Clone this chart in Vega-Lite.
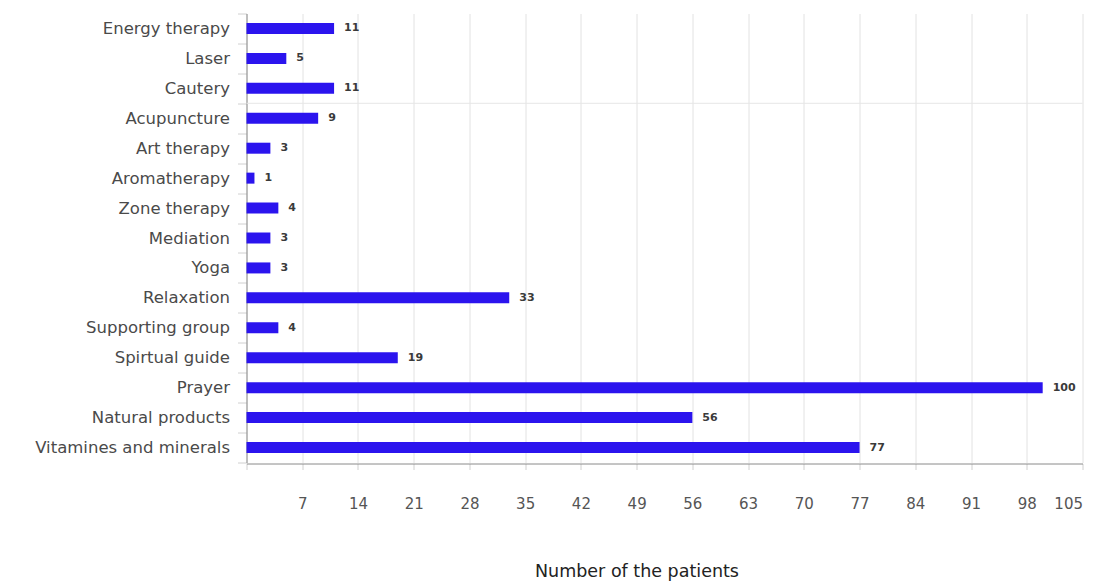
{
  "$schema": "https://vega.github.io/schema/vega-lite/v6.json",
  "autosize": "none",
  "padding": {"left": 246.5, "top": 13.5, "right": 18.5, "bottom": 122.5},
  "width": 836,
  "height": 449,
  "background": "white",
  "config": {
    "view": {"stroke": null},
    "font": "DejaVu Sans"
  },
  "data": {
    "values": [
      {"therapy": "Energy therapy", "patients": 11},
      {"therapy": "Laser", "patients": 5},
      {"therapy": "Cautery", "patients": 11},
      {"therapy": "Acupuncture", "patients": 9},
      {"therapy": "Art therapy", "patients": 3},
      {"therapy": "Aromatherapy", "patients": 1},
      {"therapy": "Zone therapy", "patients": 4},
      {"therapy": "Mediation", "patients": 3},
      {"therapy": "Yoga", "patients": 3},
      {"therapy": "Relaxation", "patients": 33},
      {"therapy": "Supporting group", "patients": 4},
      {"therapy": "Spirtual guide", "patients": 19},
      {"therapy": "Prayer", "patients": 100},
      {"therapy": "Natural products", "patients": 56},
      {"therapy": "Vitamines and minerals", "patients": 77}
    ]
  },
  "encoding": {
    "y": {
      "field": "therapy",
      "type": "nominal",
      "sort": null,
      "scale": {"paddingInner": 0, "paddingOuter": 0},
      "axis": {
        "title": null,
        "tickBand": "extent",
        "tickSize": 9,
        "tickColor": "#d0d0d0",
        "domainColor": "#8a8a8a",
        "labelFontSize": 16.5,
        "labelColor": "#4a4a4a",
        "labelPadding": 8,
        "labelLimit": 400,
        "grid": false
      }
    },
    "x": {
      "field": "patients",
      "type": "quantitative",
      "scale": {"domain": [0, 105], "nice": false},
      "axis": {
        "values": [0, 7, 14, 21, 28, 35, 42, 49, 56, 63, 70, 77, 84, 91, 98, 105],
        "labelExpr": "datum.value === 0 ? '' : datum.label",
        "title": "Number of the patients",
        "titleFontSize": 17.5,
        "titleFontWeight": "normal",
        "titleColor": "#222222",
        "titleX": 390,
        "titleY": 108,
        "titleBaseline": "middle",
        "titleAnchor": "middle",
        "grid": true,
        "gridColor": "#e2e2e2",
        "domainColor": "#8a8a8a",
        "tickColor": "#d0d0d0",
        "tickSize": 6,
        "labelFontSize": 15,
        "labelColor": "#555555",
        "labelPadding": 27,
        "offset": 1
      }
    }
  },
  "layer": [
    {
      "mark": {"type": "bar", "color": "#2b14ee", "size": 11}
    },
    {
      "mark": {
        "type": "text",
        "align": "left",
        "baseline": "middle",
        "dx": 10,
        "fontSize": 11,
        "fontWeight": "bold",
        "color": "#3a3a3a"
      },
      "encoding": {"text": {"field": "patients", "type": "quantitative"}}
    },
    {
      "transform": [{"filter": "datum.therapy === 'Cautery'"}],
      "mark": {"type": "rule", "color": "#e6e6e6", "strokeWidth": 1},
      "encoding": {
        "y": {"field": "therapy", "type": "nominal", "sort": null, "bandPosition": 1},
        "x": null
      }
    }
  ]
}
